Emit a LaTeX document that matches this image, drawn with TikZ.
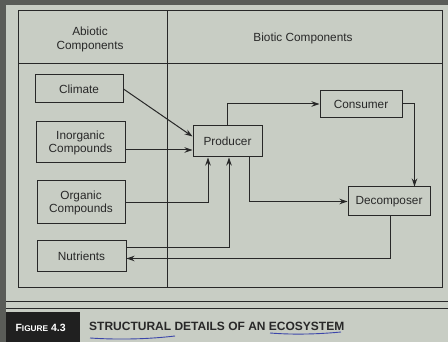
\documentclass[tikz,border=0pt]{standalone}
\usepackage{fontspec}
\setmainfont{Liberation Sans}
\usetikzlibrary{arrows.meta,calc}
\definecolor{paper}{RGB}{200,205,196}
\definecolor{ink}{RGB}{40,40,40}
\definecolor{edge}{RGB}{90,92,88}
\definecolor{pen}{RGB}{60,70,170}
\begin{document}
\begin{tikzpicture}[x=1pt,y=-1pt,
  comp/.style={draw=ink,line width=1pt,align=center,inner sep=0pt,font=\fontsize{11.8}{13}\selectfont,text=ink},
  frame/.style={draw=ink,line width=1pt},
  flow/.style={draw=ink,line width=1pt,-{Stealth[length=8pt,width=5.5pt]}},
  lbl/.style={align=center,font=\fontsize{11.8}{14}\selectfont,text=ink}]
\useasboundingbox (0,0) rectangle (448,342);
\fill[edge] (0,0) rectangle (448,342);
\fill[paper] (6,5) rectangle (448,342);
% frame
\draw[frame] (18,11) rectangle (442,288);
\draw[frame] (18,64) -- (442,64);
\draw[frame] (167,11) -- (167,288);
\node[lbl] (habi) at (90,39) {Abiotic\\Components};
\node[lbl] (hbio) at (303,38) {Biotic Components};
% boxes
\node[comp,minimum width=88pt,minimum height=28pt] (clim) at (79,89) {Climate};
\node[comp,minimum width=89pt,minimum height=41pt] (inorg) at (80.5,142.5) {Inorganic\\Compounds};
\node[comp,minimum width=88pt,minimum height=43pt] (org) at (81,202.5) {Organic\\Compounds};
\node[comp,minimum width=89pt,minimum height=31pt] (nut) at (81.5,256.5) {Nutrients};
\node[comp,minimum width=69pt,minimum height=31pt] (prod) at (227.5,141.5) {Producer};
\node[comp,minimum width=82pt,minimum height=27pt] (cons) at (361,104) {Consumer};
\node[comp,minimum width=82pt,minimum height=29pt] (dec) at (389,201.5) {Decomposer};
% connectors
\draw[flow] (clim.east) -- ([yshift=5pt]prod.west);
\coordinate (inA) at ([yshift=-7.5pt]inorg.east);
\draw[flow] (inA) -- (prod.west |- inA);
\draw[flow] (org.east) -| ([xshift=-19.5pt]prod.south);
\draw[flow] ([yshift=9pt]nut.east) -| ([xshift=1.5pt]prod.south);
\draw[flow] (prod.north) |- (cons.west);
\draw[flow] (cons.east) -| ([xshift=67pt]dec.north west);
\draw[flow] ([xshift=-13pt]prod.south east) |- (dec.west);
\draw[flow] ([xshift=1pt]dec.south) |- ([yshift=-2pt]nut.east);
% caption band
\draw[ink,line width=1pt] (6,302) -- (448,302);
\draw[ink,line width=1pt] (6,309) -- (448,309);
\fill[ink!80!black] (6,312) rectangle (80,342);
\node[text=white,font=\bfseries,anchor=west] (fig) at (12,328) {{\fontsize{10.5}{12}\selectfont F}{\fontsize{8.3}{10}\selectfont IGURE} {\fontsize{10.5}{12}\selectfont 4.3}};
\node[text=ink,font=\bfseries\fontsize{12}{14}\selectfont,anchor=west,inner sep=0pt] (cap) at (89,326) {STRUCTURAL DETAILS OF AN ECOSYSTEM};
\draw[pen,line width=0.9pt] (90,338) .. controls (120,340) and (150,339) .. (175,336);
\draw[pen,line width=0.9pt] (270,333) .. controls (295,335) and (320,334) .. (341,332);
\end{tikzpicture}
\end{document}
